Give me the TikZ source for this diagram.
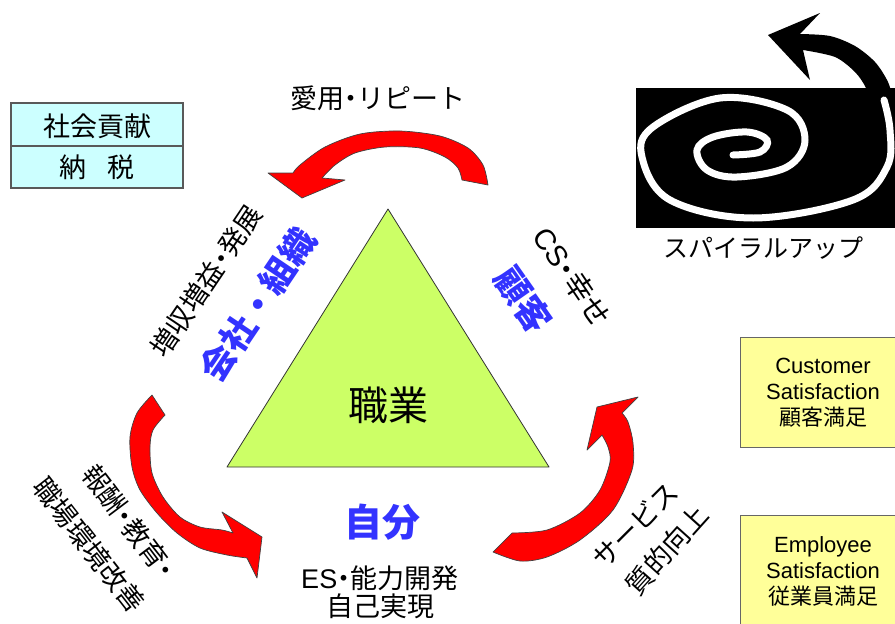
\documentclass[tikz,border=0pt]{standalone}
\usepackage{fontspec}
\setmainfont{Liberation Sans}
\newfontfamily\jp{Noto Sans CJK JP}
\newcommand\txtsize[2]{\fontsize{#1}{#2}\selectfont}
% narrow middle dot, as set by a proportional Japanese face
\newcommand\ndot{\kern-0.25em・\kern-0.25em}
\definecolor{arrowred}{HTML}{FF0000}
\definecolor{trifill}{HTML}{CCFF66}
\definecolor{blueword}{HTML}{3333FF}
\definecolor{cyanbox}{HTML}{CCFFFF}
\definecolor{yellowbox}{HTML}{FFFF99}
\begin{document}
\begin{tikzpicture}[x=1pt,y=-1pt,
  redarrow/.style={fill=arrowred, draw=black!75, line width=0.7pt, line join=round},
  jtext/.style={font=\jp\txtsize{27}{31}, inner sep=0pt},
  bluetext/.style={font=\jp\bfseries\txtsize{35}{40}, text=blueword, inner sep=0pt},
  infobox/.style={fill=yellowbox, draw=black!60, line width=1pt},
  infotext/.style={font=\txtsize{22}{26}, align=center, inner sep=0pt}]
\useasboundingbox (0,0) rectangle (895,624);

% central triangle
\draw[fill=trifill, draw=black!80, line width=0.8pt, line join=round]
  (388,209) -- (549,467) -- (227,467) -- cycle;
\node[font=\jp\txtsize{40}{44}, inner sep=0pt] (job) at (388,405) {職業};

% social contribution box
\draw[fill=cyanbox, draw=black!65, line width=1.2pt] (11,103) rectangle (183,188);
\draw[draw=black!65, line width=1.2pt] (11,146) -- (183,146);
\node[jtext] (social) at (97,126) {社会貢献};
\node[jtext] (tax) at (97,167) {納\hspace{0.75em}税};

% red cycle arrows
\draw[redarrow]
  plot[smooth] coordinates {(488,185) (483,165) (468,148) (440,136) (400,131) (360,134) (325,147) (300,165) (293,173)}
  -- (268,173) -- (302,198) -- (345,180)
  -- plot[smooth] coordinates {(322,178) (335,165) (355,153) (385,147) (420,148) (445,157) (458,168) (462,180)}
  -- cycle;
\draw[redarrow]
  plot[smooth] coordinates {(152,395) (137,413) (130,437) (132,467) (140,490) (157,513) (177,533) (200,548) (227,555) (247,558)}
  -- (257,578) -- (262,537) -- (222,512)
  -- plot[smooth] coordinates {(233,533) (222,530) (200,527) (180,517) (163,497) (152,473) (150,447) (153,430) (165,415)}
  -- cycle;
\draw[redarrow]
  plot[smooth] coordinates {(493,552) (520,561) (547,557) (580,540) (613,510) (632,470) (633,443) (628,422) (622,413)}
  -- (638,397) -- (597,407) -- (587,450)
  -- plot[smooth] coordinates {(602,435) (608,447) (610,462) (600,490) (580,513) (547,530) (512,533)}
  -- cycle;

% labels round the triangle
\node[jtext] (repeat) at (378,98) {愛用\ndot リピート};
\node[jtext, rotate=56] (growth) at (206,281) {増収増益\ndot 発展};
\node[bluetext, rotate=56] (company) at (258,305) {会社・組織};
\node[jtext, font=\jp\txtsize{29}{33}, rotate=-56] (cs) at (572,277) {{\rmfamily CS}\ndot 幸せ};
\node[bluetext, rotate=-55] (customer) at (523,300) {顧客};
\node[jtext, rotate=-53] (reward) at (129,522) {報酬\ndot 教育\ndot};
\node[jtext, rotate=-52] (workplace) at (89,545) {職場環境改善};
\node[jtext, rotate=45] (service) at (635,525) {サービス};
\node[jtext, rotate=48] (quality) at (667,550) {質的向上};
\node[bluetext, font=\jp\bfseries\txtsize{38}{42}] (self) at (382,522) {自分};
\node[jtext] (es) at (380,578) {{\rmfamily ES}\ndot 能力開発};
\node[jtext] (realize) at (380,606) {自己実現};

% spiral-up emblem
\fill[black] (636,88) rectangle (900,228);
\fill[black, line join=round]
  (768,35) -- (820,13) -- (800,34)
  -- plot[smooth] coordinates {(800,34) (830,36) (855,46) (875,62) (888,82) (895,105)}
  -- (870,105)
  -- plot[smooth] coordinates {(870,105) (866,88) (855,72) (835,57) (803,50)}
  -- (810,80) -- cycle;
\draw[white, line width=7pt, line cap=round]
  plot[smooth, tension=0.6] coordinates {(733,155) (760,152) (767,140) (747,132) (713,137) (697,150) (707,170) (737,177) (787,167) (805,140) (787,110) (720,98) (653,127) (642,157) (670,200) (753,218) (853,200) (887,167) (890,130) (884,100)};
\node[font=\jp\txtsize{25}{29}, inner sep=0pt] (spiral) at (763,248) {スパイラルアップ};

% satisfaction boxes
\draw[infobox] (740,337) rectangle (905,447);
\node[infotext] (csbox) at (823,393) {Customer\\Satisfaction\\{\jp 顧客満足}};
\draw[infobox] (740,515) rectangle (905,640);
\node[infotext] (esbox) at (823,571) {Employee\\Satisfaction\\{\jp 従業員満足}};
\end{tikzpicture}
\end{document}
